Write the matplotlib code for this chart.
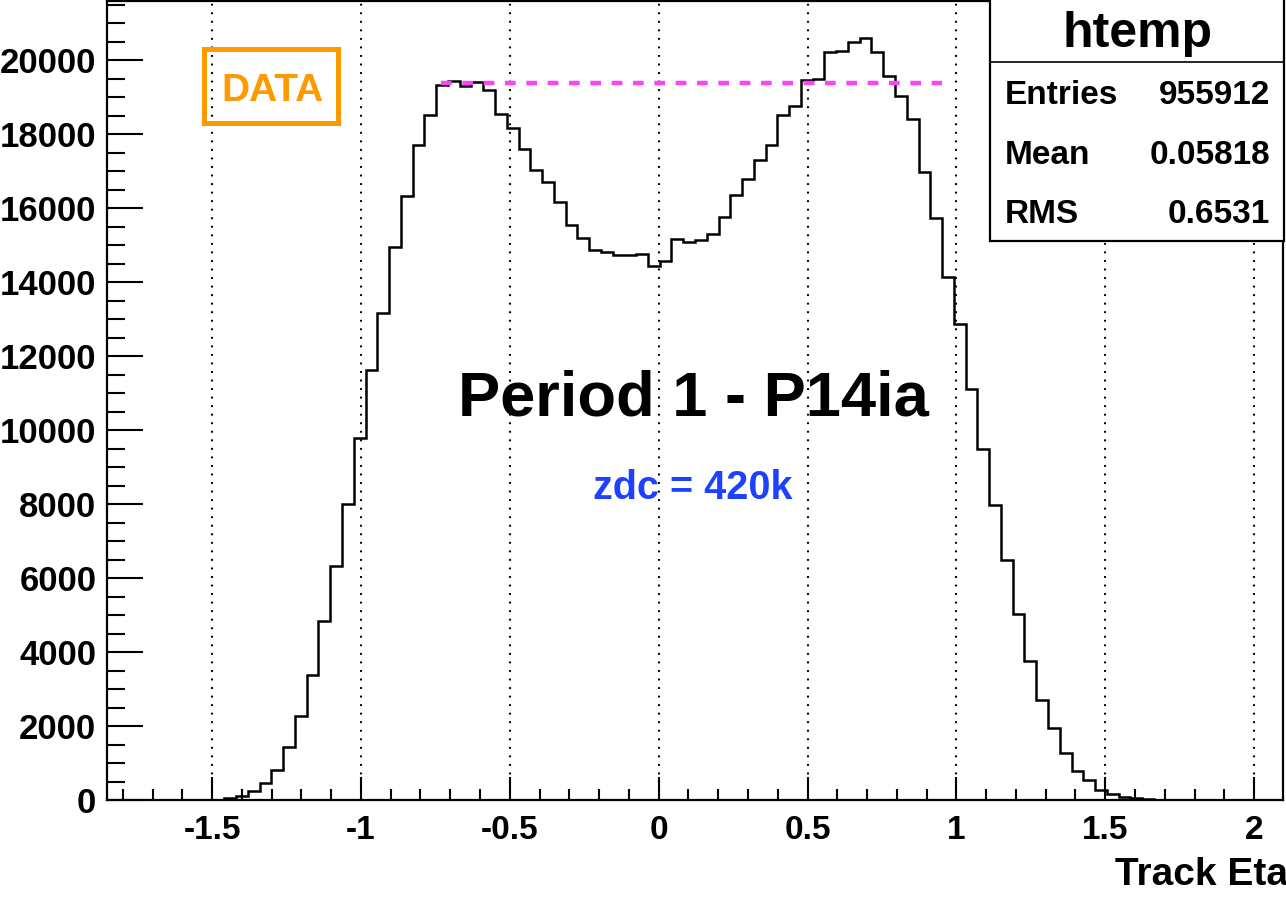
import numpy as np
import matplotlib
matplotlib.use('Agg')
import matplotlib.pyplot as plt
from matplotlib.ticker import MultipleLocator, FormatStrFormatter
from matplotlib.patches import Rectangle
from matplotlib.lines import Line2D

plt.rcParams['font.family'] = ['Liberation Sans', 'DejaVu Sans']
plt.rcParams['font.weight'] = 'bold'
plt.rcParams['axes.unicode_minus'] = False

# track eta histogram, 100 bins
eta_min, eta_max = -1.854, 2.098
counts = [
    0, 0, 0, 0, 0, 0, 0, 5, 10, 20,
    55, 125, 260, 475, 815, 1445, 2280, 3385, 4840, 6320,
    8000, 9790, 11630, 13170, 14950, 16334, 17694, 18505, 19316, 19443,
    19308, 19416, 19180, 18550, 18154, 17596, 17037, 16694, 16172, 15550,
    15199, 14856, 14812, 14739, 14731, 14766, 14442, 14569, 15172, 15091,
    15145, 15307, 15758, 16361, 16794, 17307, 17694, 18505, 18767, 19470,
    19497, 20208, 20235, 20478, 20586, 20218, 19577, 19037, 18415, 16983,
    15721, 14130, 12875, 11110, 9480, 7965, 6490, 5045, 3760, 2705,
    1950, 1290, 790, 545, 270, 175, 85, 52, 28, 12,
    8, 5, 0, 0, 0, 0, 0, 0, 0, 0,
]
edges = np.linspace(eta_min, eta_max, len(counts) + 1)

# reference level of the first peak
ref_level = 19380
ref_x0, ref_x1 = -0.73, 0.95

stats_labels = ['Entries', 'Mean', 'RMS']
stats_values = ['955912', '0.05818', '0.6531']

W, H = 1286, 901
fig = plt.figure(figsize=(W / 100, H / 100), dpi=100)
ax = fig.add_axes([106.7 / W, 1 - 800.3 / H, (1283.3 - 106.7) / W, (800.3 - 0.8) / H])

ax.stairs(counts, edges, color='black', linewidth=1.8, zorder=3)
ax.hlines(ref_level, ref_x0, ref_x1, color='#f946f4', linewidth=3.2,
          linestyles=[(0, (2.4, 2.4))], zorder=4)

ax.set_xlim(eta_min, eta_max)
ax.set_ylim(0, 21600)

ax.xaxis.set_major_locator(MultipleLocator(0.5))
ax.xaxis.set_minor_locator(MultipleLocator(0.1))
ax.xaxis.set_major_formatter(FormatStrFormatter('%g'))
ax.yaxis.set_major_locator(MultipleLocator(2000))
ax.yaxis.set_minor_locator(MultipleLocator(500))

ax.tick_params(axis='x', which='major', direction='in', length=16.6, width=1.5,
               labelsize=24, pad=10.5)
ax.tick_params(axis='x', which='minor', direction='in', length=8, width=1.5)
ax.tick_params(axis='y', which='major', direction='in', length=26, width=1.5,
               labelsize=25, pad=7.5)
ax.tick_params(axis='y', which='minor', direction='in', length=13, width=1.5)
for lab in ax.get_xticklabels() + ax.get_yticklabels():
    lab.set_fontweight('bold')

for s in ax.spines.values():
    s.set_linewidth(1.6)

ax.xaxis.grid(True, which='major', color='black', linewidth=1.5, linestyle=(0, (0.9, 3.2)))
ax.set_axisbelow(True)

# DATA tag
fig.add_artist(Rectangle((204.2 / W, 1 - 123.2 / H), (338.2 - 204.2) / W, (123.2 - 48.5) / H,
                         transform=fig.transFigure, fill=False, edgecolor='#ff9900', linewidth=3.6))
fig.text(272.5 / W, 1 - 100.7 / H, 'DATA', color='#ff9900', fontsize=28,
         fontweight='bold', ha='center', va='baseline')

fig.text(693 / W, 1 - 416 / H, 'Period 1 - P14ia', fontsize=45.5, fontweight='bold',
         ha='center', va='baseline')
fig.text(693 / W, 1 - 499 / H, 'zdc = 420k', color='#1e40ff', fontsize=28.5,
         fontweight='bold', ha='center', va='baseline')

fig.text(1115 / W, 1 - 885 / H, 'Track Eta', fontsize=28, fontweight='bold',
         ha='left', va='baseline')

# stats box
box_l, box_r, box_b = 990, 1284, 241
fig.add_artist(Rectangle((box_l / W, 1 - box_b / H), (box_r - box_l) / W, (box_b + 2) / H,
                         transform=fig.transFigure, facecolor='white', edgecolor='black',
                         linewidth=1.6, zorder=5))
fig.add_artist(Line2D([box_l / W, box_r / W], [1 - 62 / H, 1 - 62 / H],
                      transform=fig.transFigure, color='black', linewidth=1.2, zorder=6))
fig.text((box_l + box_r) / 2 / W, 1 - 47 / H, 'htemp', fontsize=36, fontweight='bold',
         ha='center', va='baseline', zorder=7)
for i, (lab, val) in enumerate(zip(stats_labels, stats_values)):
    yb = 1 - (104 + 59.5 * i) / H
    fig.text(1005 / W, yb, lab, fontsize=24, fontweight='bold', ha='left', va='baseline', zorder=7)
    fig.text(1270 / W, yb, val, fontsize=24, fontweight='bold', ha='right', va='baseline', zorder=7)

fig.savefig('out.png', dpi=100)
